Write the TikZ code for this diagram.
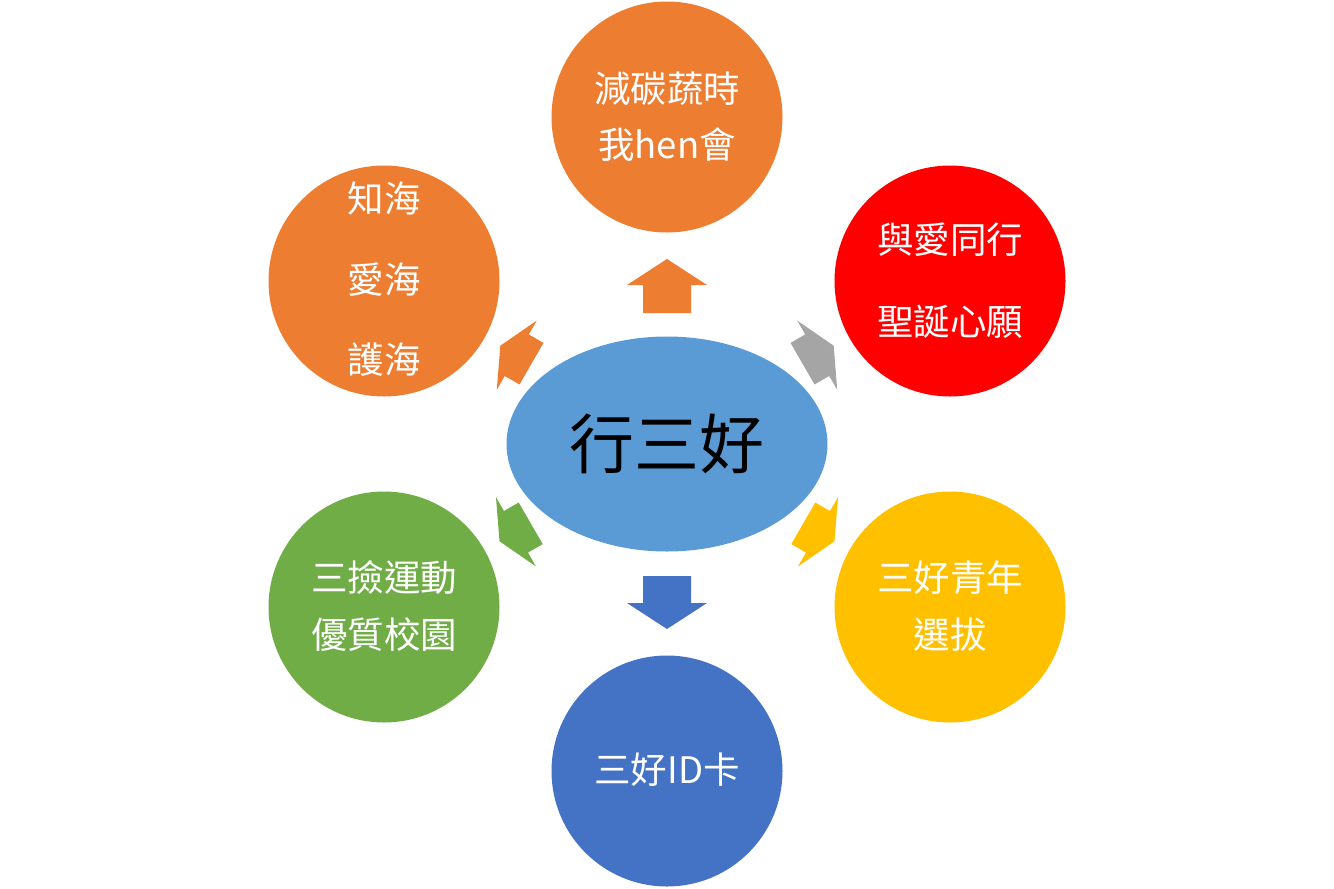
\documentclass[tikz,border=0pt]{standalone}
\usepackage{fontspec}
\usetikzlibrary{shapes.geometric}
\newfontfamily\cjk{Noto Sans CJK TC}
\definecolor{cOrange}{HTML}{ED7D31}
\definecolor{cRed}{HTML}{FF0000}
\definecolor{cGray}{HTML}{A5A5A5}
\definecolor{cYellow}{HTML}{FFC000}
\definecolor{cGreen}{HTML}{70AD47}
\definecolor{cBlue}{HTML}{4472C4}
\definecolor{cCenter}{HTML}{5B9BD5}
\tikzset{
  outer/.style={circle, minimum size=231pt, inner sep=0pt, draw=none},
  lbl/.style={text=white, font=\cjk\fontsize{36.5}{40}\selectfont, inner sep=0pt},
  pics/blockarrow/.style n args={3}{code={
    \fill[#1] (0,-24) -- (#3,-24) -- (#3,-40) -- (#2,0) -- (#3,40) -- (#3,24) -- (0,24) -- cycle;
  }}
}
\begin{document}
\begin{tikzpicture}[x=1pt,y=-1pt]
\useasboundingbox (0,0) rectangle (1334,889);
% center
\node[ellipse, fill=cCenter, minimum width=321pt, minimum height=215pt, inner sep=0pt] (c) at (667,444) {};
\node[font=\cjk\fontsize{65}{70}\selectfont, text=black, inner sep=0pt] (ct) at (667,444) {行三好};
% circles
\node[outer, fill=cOrange] (n1) at (667,117) {};
\node[outer, fill=cRed] (n2) at (950,281) {};
\node[outer, fill=cYellow] (n3) at (950,607) {};
\node[outer, fill=cBlue] (n4) at (667,771) {};
\node[outer, fill=cGreen] (n5) at (384,607) {};
\node[outer, fill=cOrange] (n6) at (384,281) {};
% labels
\node[lbl] (t1a) at (667,89) {減碳蔬時};
\node[lbl] (t1b) at (667,145) {我hen會};
\node[lbl] (t2a) at (950,240) {與愛同行};
\node[lbl] (t2b) at (950,322) {聖誕心願};
\node[lbl] (t3a) at (950,578) {三好青年};
\node[lbl] (t3b) at (950,635) {選拔};
\node[lbl] (t4) at (667,770) {三好ID卡};
\node[lbl] (t5a) at (384,578) {三撿運動};
\node[lbl] (t5b) at (384,635) {優質校園};
\node[lbl] (t6a) at (384,199) {知海};
\node[lbl] (t6b) at (384,280) {愛海};
\node[lbl] (t6c) at (384,360) {護海};
% arrows
\coordinate (a1) at (667,313);
\coordinate (a2) at (802.5,363.7);
\coordinate (a3) at (803.3,523.3);
\coordinate (a4) at (667,576);
\coordinate (a5) at (530.7,523.3);
\coordinate (a6) at (531.5,363.7);
\pic[shift={(a1)}, rotate=90] {blockarrow={cOrange}{54}{28}};
\pic[shift={(a2)}, rotate=30] {blockarrow={cGray}{36}{17}};
\pic[shift={(a3)}, rotate=-30] {blockarrow={cYellow}{36}{17}};
\pic[shift={(a4)}, rotate=-90] {blockarrow={cBlue}{53}{27}};
\pic[shift={(a5)}, rotate=-150] {blockarrow={cGreen}{36}{17}};
\pic[shift={(a6)}, rotate=150] {blockarrow={cOrange}{36}{17}};
\end{tikzpicture}
\end{document}
